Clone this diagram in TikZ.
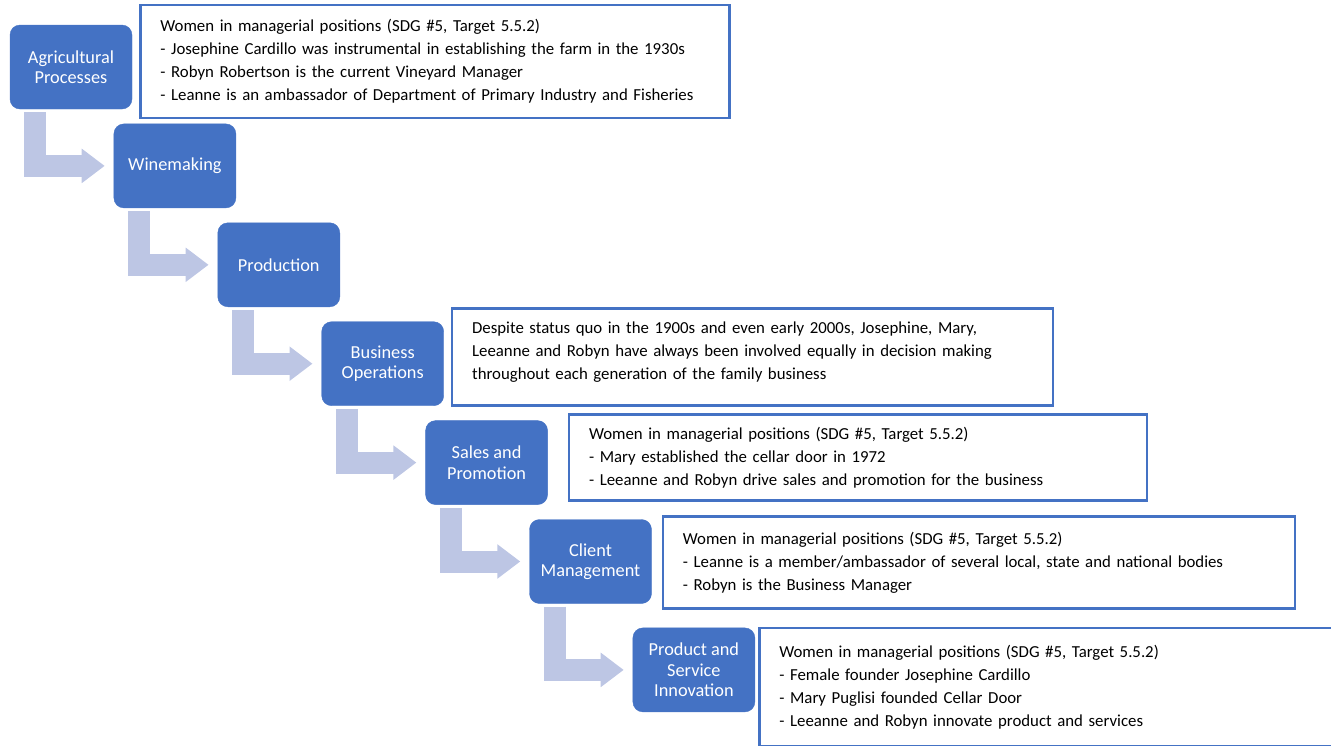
\documentclass[tikz,border=0pt]{standalone}
\usepackage{fontspec}
\setmainfont{Carlito}
\usepackage{tikz}
\usetikzlibrary{positioning, arrows.meta, calc}
\usepackage{xcolor}
\definecolor{stageblue}{HTML}{4472C4}
\definecolor{arrowgrey}{HTML}{BDC6E4}

\begin{document}
\begin{tikzpicture}[
    stage/.style={draw=stageblue, fill=stageblue, rounded corners=10pt, minimum width=122pt, minimum height=84pt,
      text=white, align=center, font=\fontsize{18.3}{20.5}\selectfont},
    notebox/.style={draw=stageblue, line width=2.5pt, fill=white, align=left, inner xsep=20pt,
      font=\fontsize{16.8}{22.9}\selectfont},
    steparrow/.style={draw=arrowgrey, line width=22pt, line join=miter,
      -{Triangle[width=33pt 0 0, length=23pt 0 0]}}
  ]
      \useasboundingbox (0,0) rectangle (1331pt,-745pt);

      % Stages (staircase)
      \node [stage] (agri) at (71pt,-67pt) {Agricultural\\Processes};
      \node [stage, below right=14.5pt and -18.5pt of agri] (wine) {Winemaking};
      \node [stage, below right=14.5pt and -18.5pt of wine] (prod) {Production};
      \node [stage, below right=14.5pt and -18.5pt of prod] (busops) {Business\\Operations};
      \node [stage, below right=14.5pt and -18.5pt of busops] (sales) {Sales and\\Promotion};
      \node [stage, below right=14.5pt and -18.5pt of sales] (client) {Client\\Management};
      \node [stage, below right=24pt and -19pt of client] (innov) {Product and\\Service\\Innovation};

      % Notes
      \node [notebox, text width=549pt, minimum height=113pt, right=7pt of agri, yshift=5.5pt] (agrinote) {
        Women in managerial positions (SDG \#5, Target 5.5.2)\\
        - Josephine Cardillo was instrumental in establishing the farm in the 1930s\\
        - Robyn Robertson is the current Vineyard Manager\\
        - Leanne is an ambassador of Department of Primary Industry and Fisheries
      };
      \node [notebox, text width=561pt, minimum height=97pt, right=7pt of busops, yshift=6.5pt] (busnote) {
        Despite status quo in the 1900s and even early 2000s, Josephine, Mary,\\
        Leeanne and Robyn have always been involved equally in decision making\\
        throughout each generation of the family business\\[-10pt]\mbox{}
      };
      \node [notebox, text width=538pt, minimum height=86pt, right=20pt of sales, yshift=5pt] (salesnote) {
        Women in managerial positions (SDG \#5, Target 5.5.2)\\
        - Mary established the cellar door in 1972\\
        - Leeanne and Robyn drive sales and promotion for the business
      };
      \node [notebox, text width=592pt, minimum height=92pt, right=10pt of client, yshift=-1pt] (clientnote) {
        Women in managerial positions (SDG \#5, Target 5.5.2)\\
        - Leanne is a member/ambassador of several local, state and national bodies\\
        - Robyn is the Business Manager
      };
      \node [notebox, text width=600pt, minimum height=118pt, right=3pt of innov, yshift=-17pt] (innovnote) {
        Women in managerial positions (SDG \#5, Target 5.5.2)\\
        - Female founder Josephine Cardillo\\
        - Mary Puglisi founded Cellar Door\\
        - Leeanne and Robyn innovate product and services
      };

      % Arrows
      \draw [steparrow] ([xshift=25.5pt, yshift=-3pt]agri.south west) |- ([xshift=-9pt]wine.west);
      \draw [steparrow] ([xshift=25.5pt, yshift=-3pt]wine.south west) |- ([xshift=-9pt]prod.west);
      \draw [steparrow] ([xshift=25.5pt, yshift=-3pt]prod.south west) |- ([xshift=-9pt]busops.west);
      \draw [steparrow] ([xshift=25.5pt, yshift=-3pt]busops.south west) |- ([xshift=-9pt]sales.west);
      \draw [steparrow] ([xshift=25.5pt, yshift=-3pt]sales.south west) |- ([xshift=-9pt]client.west);
      \draw [steparrow] ([xshift=25.5pt, yshift=-3pt]client.south west) |- ([xshift=-9pt]innov.west);
    \end{tikzpicture}
\end{document}
